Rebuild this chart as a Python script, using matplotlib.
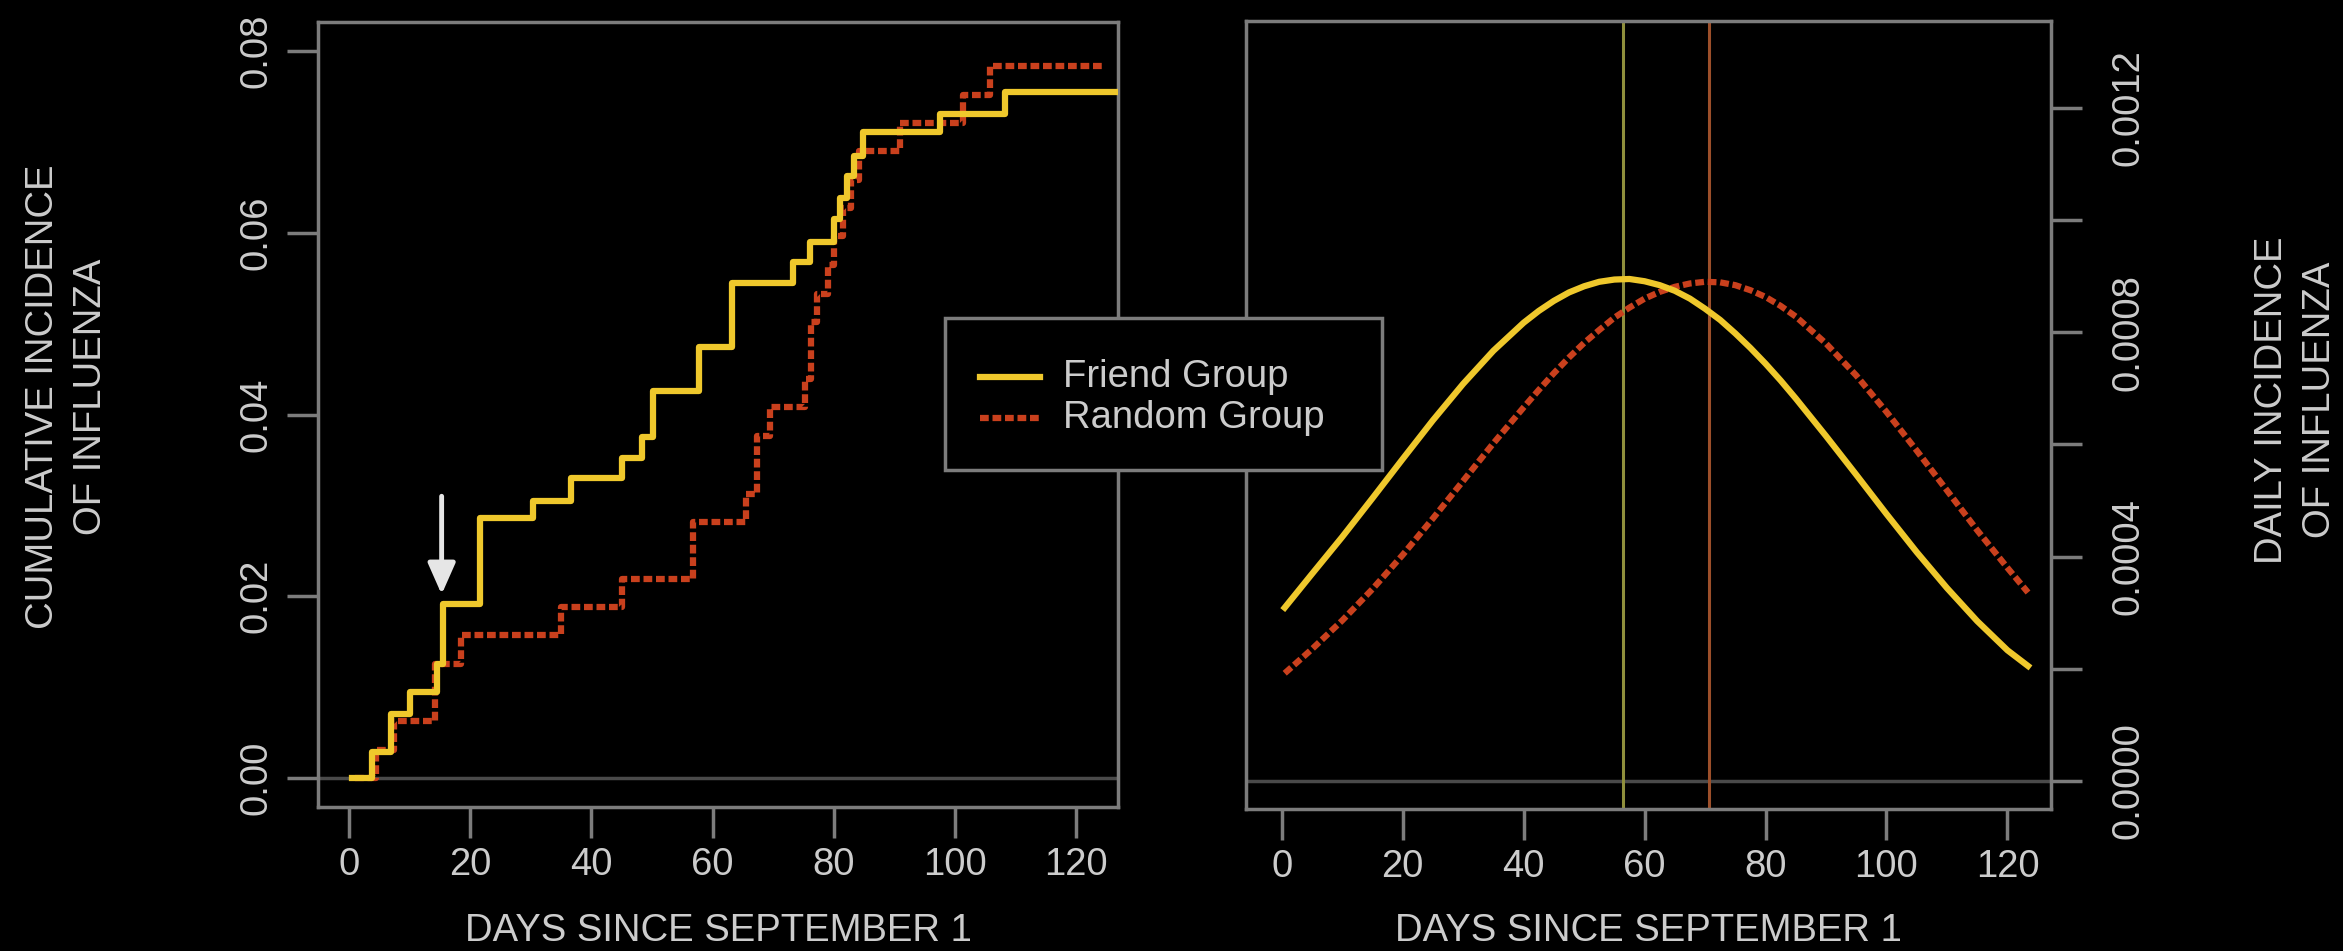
"""Incidencia de gripe: grupo de amigos vs grupo aleatorio (dos paneles, fondo negro)."""

import matplotlib
matplotlib.use("Agg")
import matplotlib.pyplot as plt
from matplotlib.lines import Line2D
from matplotlib.patches import Rectangle

plt.rcParams["font.family"] = ["Liberation Sans", "DejaVu Sans"]

# --- datos -----------------------------------------------------------------
# incidencia acumulada (escalones), día del salto -> nivel nuevo
friend_day = [0.5, 3.8, 7.0, 10.1, 14.6, 15.6, 21.6, 30.4, 36.6, 45.0, 48.3,
              50.2, 57.8, 63.2, 73.3, 76.1, 80.0, 81.0, 82.2, 83.4, 84.8,
              97.5, 108.3, 126.7]
friend_cum = [0.0000, 0.0029, 0.0070, 0.0095, 0.0125, 0.0191, 0.0286, 0.0305,
              0.0330, 0.0352, 0.0375, 0.0426, 0.0474, 0.0545, 0.0568, 0.0590,
              0.0615, 0.0638, 0.0662, 0.0685, 0.0711, 0.0731, 0.0755, 0.0755]

random_day = [1.0, 4.5, 7.5, 14.2, 18.5, 35.0, 45.0, 56.8, 65.6, 67.3, 69.5,
              75.3, 76.3, 77.3, 79.0, 80.0, 81.5, 82.8, 84.2, 91.0, 101.4,
              105.8, 124.4]
random_cum = [0.0000, 0.0031, 0.0063, 0.0125, 0.0157, 0.0188, 0.0219, 0.0282,
              0.0313, 0.0376, 0.0408, 0.0439, 0.0502, 0.0533, 0.0564, 0.0596,
              0.0627, 0.0658, 0.0690, 0.0721, 0.0752, 0.0784, 0.0784]

# incidencia diaria (curvas suaves)
daily_day = [0.5, 5, 10, 15, 20, 25, 30, 35, 40, 42.5, 45, 47.5, 50, 52.5,
             55, 57.5, 60, 62.5, 65, 67.5, 70, 72.5, 75, 77.5, 80, 82.5, 85,
             90, 95, 100, 105, 110, 115, 120, 123.4]
friend_daily = [0.000309, 0.000369, 0.000435, 0.000504, 0.000574, 0.000643,
                0.000708, 0.000767, 0.000817, 0.000838, 0.000856, 0.000871,
                0.000882, 0.000890, 0.000894, 0.000895, 0.000891, 0.000884,
                0.000874, 0.000860, 0.000842, 0.000822, 0.000798, 0.000772,
                0.000744, 0.000714, 0.000682, 0.000615, 0.000546, 0.000476,
                0.000408, 0.000344, 0.000285, 0.000233, 0.000205]
random_daily = [0.000192, 0.000235, 0.000286, 0.000342, 0.000403, 0.000468,
                0.000535, 0.000602, 0.000666, 0.000697, 0.000727, 0.000755,
                0.000781, 0.000804, 0.000826, 0.000844, 0.000860, 0.000872,
                0.000881, 0.000887, 0.000890, 0.000889, 0.000884, 0.000875,
                0.000863, 0.000847, 0.000828, 0.000780, 0.000723, 0.000658,
                0.000589, 0.000518, 0.000447, 0.000380, 0.000336]

friend_peak = 56.5
random_peak = 70.6
arrow_day = 15.3

x_ticks = [0, 20, 40, 60, 80, 100, 120]
cum_ticks = [0.00, 0.02, 0.04, 0.06, 0.08]
cum_labels = ["0.00", "0.02", "0.04", "0.06", "0.08"]
daily_ticks = [0.0000, 0.0002, 0.0004, 0.0006, 0.0008, 0.0010, 0.0012]
daily_labels = ["0.0000", "", "0.0004", "", "0.0008", "", "0.0012"]

# --- estilo -----------------------------------------------------------------
BG = "black"
GRIS = "#7c7c7c"
TXT = "#cccccc"
AMARILLO = "#efc82c"
ROJO = "#c9401d"
FS = 27.5
LW = 4.5
GUION = (1.4, 0.6)
W, H = 2343, 951

fig = plt.figure(figsize=(W / 100, H / 100), dpi=100, facecolor=BG)


def caja(x0, y0, x1, y1):
    """Rectángulo en píxeles (origen arriba-izquierda) -> fracción de figura."""
    return [x0 / W, 1 - y1 / H, (x1 - x0) / W, (y1 - y0) / H]


ax1 = fig.add_axes(caja(318, 22, 1118, 807))
ax2 = fig.add_axes(caja(1246, 21, 2051, 809))

for ax in (ax1, ax2):
    ax.set_facecolor(BG)
    for s in ax.spines.values():
        s.set_color(GRIS)
        s.set_linewidth(2.5)
    ax.tick_params(length=22, width=2.5, color=GRIS, labelcolor=TXT,
                   labelsize=FS)
    ax.tick_params(axis="x", pad=7)
    ax.set_xticks(x_ticks)

# panel izquierdo: incidencia acumulada
ax1.axhline(0, color="#4a4a4a", lw=2.5, zorder=1)
ax1.step(random_day, random_cum, where="post", color=ROJO, lw=LW,
         dashes=GUION, zorder=2)
ax1.step(friend_day, friend_cum, where="post", color=AMARILLO, lw=LW,
         zorder=3)
ax1.annotate("", xy=(arrow_day, 0.0202), xytext=(arrow_day, 0.0310),
             arrowprops=dict(arrowstyle="-|>,head_length=0.95,head_width=0.42",
                             color="#e6e6e6", lw=3.5, mutation_scale=20,
                             shrinkA=0, shrinkB=0), zorder=4)
ax1.set_xlim(-5.1, 126.9)
ax1.set_ylim(-0.0032, 0.0832)
ax1.set_yticks(cum_ticks, cum_labels, rotation=90, va="center")
ax1.tick_params(axis="y", pad=9)

# panel derecho: incidencia diaria
ax2.axhline(0, color="#4a4a4a", lw=2.5, zorder=1)
ax2.axvline(friend_peak, color="#8f8f3c", lw=2.2, zorder=1)
ax2.axvline(random_peak, color="#9c4f2a", lw=2.2, zorder=1)
ax2.plot(daily_day, random_daily, color=ROJO, lw=LW, dashes=GUION,
         solid_joinstyle="round", zorder=2)
ax2.plot(daily_day, friend_daily, color=AMARILLO, lw=LW,
         solid_joinstyle="round", zorder=3)
ax2.set_xlim(-5.9, 127.2)
ax2.set_ylim(-0.00005, 0.001355)
ax2.yaxis.tick_right()
ax2.set_yticks(daily_ticks, daily_labels, rotation=90, va="center")
ax2.tick_params(axis="y", pad=21)

# títulos de ejes
fig.text(718 / W, 1 - 931 / H, "DAYS SINCE SEPTEMBER 1", color=TXT,
         fontsize=FS, ha="center", va="center")
fig.text(1648 / W, 1 - 931 / H, "DAYS SINCE SEPTEMBER 1", color=TXT,
         fontsize=FS, ha="center", va="center")
fig.text(67 / W, 1 - 397 / H, "CUMULATIVE INCIDENCE\nOF INFLUENZA",
         color=TXT, fontsize=FS, rotation=90, ha="center", va="center",
         multialignment="center", linespacing=1.42)
fig.text(2296 / W, 1 - 400 / H, "DAILY INCIDENCE\nOF INFLUENZA",
         color=TXT, fontsize=FS, rotation=90, ha="center", va="center",
         multialignment="center", linespacing=1.42)

# leyenda a mano, encima de ambos paneles
fig.patches.append(Rectangle((945 / W, 1 - 470 / H), 437 / W, 152 / H,
                             transform=fig.transFigure, facecolor=BG,
                             edgecolor=GRIS, lw=2.5, zorder=5))
for fila, (nombre, color, guion) in enumerate(
        [("Friend Group", AMARILLO, None), ("Random Group", ROJO, GUION)]):
    yf = 1 - (377 + 41 * fila) / H
    linea = Line2D([980 / W, 1040 / W], [yf, yf], transform=fig.transFigure,
                   color=color, lw=LW, zorder=6)
    if guion:
        linea.set_dashes(guion)
    fig.lines.append(linea)
    fig.text(1063 / W, yf, nombre, color=TXT, fontsize=FS, ha="left",
             va="center", zorder=7)

fig.savefig("out.png", dpi=100, facecolor=BG)
